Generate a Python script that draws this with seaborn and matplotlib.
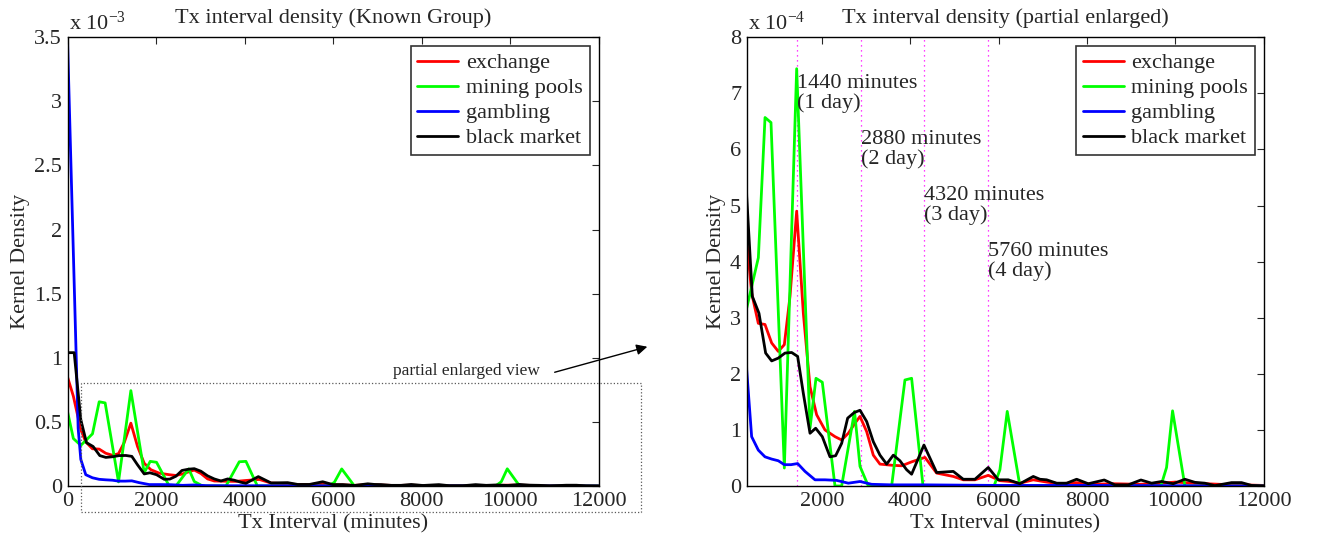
import numpy as np
import pandas as pd
import matplotlib
matplotlib.use("Agg")
import matplotlib.pyplot as plt
from matplotlib.patches import Rectangle
from matplotlib.ticker import FuncFormatter
import seaborn as sns

# Kernel density curves (density in units of 1e-4)
groups = ['exchange', 'mining pools', 'gambling', 'black market']
colors = ['#ff0000', '#00ff00', '#0000ff', '#000000']

exchange_x = [0, 132, 300, 412, 563, 714, 865, 1015, 1152, 1280,
              1431, 1582, 1733, 1883, 2071, 2298, 2449, 2600, 2751, 2864,
              3015, 3165, 3316, 3580, 3806, 4032, 4334, 4598, 4975, 5201,
              5465, 5767, 6031, 6257, 6483, 6785, 7086, 7388, 7765, 8142,
              8600, 9200, 9700, 10000, 10400, 11000, 11500, 12000]
exchange_y = [8.5, 7.0, 4.39, 3.44, 2.90, 2.88, 2.55, 2.40, 2.52, 3.38,
              4.90, 3.08, 1.77, 1.27, 1.00, 0.88, 0.82, 0.94, 1.12, 1.24,
              0.97, 0.55, 0.39, 0.37, 0.36, 0.43, 0.51, 0.23, 0.17, 0.11,
              0.11, 0.19, 0.095, 0.08, 0.05, 0.11, 0.07, 0.04, 0.06, 0.03,
              0.04, 0.03, 0.05, 0.07, 0.05, 0.03, 0.02, 0.01]

mining_x = [0, 132, 300, 564, 715, 850, 1152, 1431, 1733, 1868,
            2011, 2298, 2449, 2740, 2864, 3052, 3580, 3881, 4032, 4290,
            5897, 6030, 6196, 6483, 9673, 9801, 9937, 10216, 12000]
mining_y = [5.8, 3.7, 3.17, 4.07, 6.57, 6.48, 0.32, 7.44, 1.03, 1.92,
            1.85, 0, 0, 1.33, 0.35, 0, 0, 1.89, 1.92, 0,
            0, 0.29, 1.33, 0, 0, 0.33, 1.34, 0, 0]

gambling_x = [0, 240, 300, 412, 563, 714, 865, 1015, 1152, 1303,
              1453, 1620, 1846, 2071, 2336, 2600, 2864, 3127, 3580, 4334,
              6000, 8000, 10000, 12000]
gambling_y = [34.8, 4.5, 2.07, 0.88, 0.64, 0.52, 0.48, 0.45, 0.38, 0.38,
              0.40, 0.26, 0.11, 0.11, 0.10, 0.05, 0.08, 0.03, 0.02, 0.02,
              0.01, 0.01, 0.005, 0.0]

black_x = [0, 150, 300, 428, 578, 729, 865, 1015, 1167, 1318,
           1453, 1582, 1733, 1861, 2011, 2185, 2313, 2449, 2585, 2735,
           2864, 3015, 3165, 3316, 3467, 3618, 3768, 3919, 4032, 4183,
           4311, 4598, 4975, 5201, 5465, 5766, 5993, 6219, 6483, 6785,
           6936, 7087, 7313, 7540, 7766, 8030, 8391, 8632, 8934, 9221,
           9462, 9688, 9952, 10216, 10442, 10668, 10894, 11271, 11498, 11724,
           12000]
black_y = [10.4, 10.4, 5.17, 3.38, 3.08, 2.37, 2.23, 2.28, 2.37, 2.38,
           2.31, 1.65, 0.94, 1.03, 0.88, 0.52, 0.54, 0.76, 1.21, 1.31,
           1.35, 1.15, 0.79, 0.55, 0.39, 0.55, 0.45, 0.29, 0.21, 0.49,
           0.73, 0.24, 0.26, 0.12, 0.12, 0.33, 0.11, 0.11, 0.04, 0.17,
           0.12, 0.11, 0.05, 0.05, 0.12, 0.04, 0.107, 0.02, 0.02, 0.107,
           0.05, 0.08, 0.04, 0.12, 0.065, 0.05, 0.006, 0.06, 0.06, 0.01,
           0.0]

day_marks = [1440, 2880, 4320, 5760]
day_labels = ['1440 minutes\n(1 day)', '2880 minutes\n(2 day)',
              '4320 minutes\n(3 day)', '5760 minutes\n(4 day)']

frames = []
for name, xs, ys in zip(groups, [exchange_x, mining_x, gambling_x, black_x],
                        [exchange_y, mining_y, gambling_y, black_y]):
    frames.append(pd.DataFrame({'interval': xs,
                                'density': np.array(ys) * 1e-4,
                                'group': name}))
df = pd.concat(frames, ignore_index=True)

sns.set_style("white")
plt.rcParams['font.family'] = ['Liberation Serif', 'DejaVu Serif']
plt.rcParams['mathtext.fontset'] = 'custom'
plt.rcParams['mathtext.rm'] = 'Liberation Serif'
plt.rcParams['mathtext.it'] = 'Liberation Serif:italic'

fig = plt.figure(figsize=(13.19, 5.43), dpi=100)
ax1 = fig.add_axes([0.0512, 0.105, 0.4026, 0.8263])
ax2 = fig.add_axes([0.5661, 0.105, 0.392, 0.8263])

FS = 16


def draw(ax, title, scale, exp, ylim, yticks, xlim, xticks):
    sns.lineplot(data=df, x='interval', y='density', hue='group',
                 hue_order=groups, palette=colors, estimator=None,
                 sort=False, linewidth=2, ax=ax)
    ax.set_xlim(*xlim)
    ax.set_ylim(*ylim)
    ax.set_xticks(xticks)
    ax.set_yticks(yticks)
    ax.yaxis.set_major_formatter(FuncFormatter(lambda v, p: f'{v * scale:g}'))
    ax.tick_params(direction='in', length=5, width=0.8, labelsize=FS,
                   top=True, right=True, pad=4)
    for s in ax.spines.values():
        s.set_color('black')
        s.set_linewidth(1)
    ax.set_title(title, fontsize=FS, pad=10)
    ax.set_xlabel('Tx Interval (minutes)', fontsize=FS, labelpad=3)
    ax.set_ylabel('Kernel Density', fontsize=FS, labelpad=3)
    ax.text(0.003, 1.005, 'x 10$^{' + exp + '}$', transform=ax.transAxes,
            ha='left', va='bottom', fontsize=FS)
    handles, labels = ax.get_legend_handles_labels()
    leg = ax.legend(handles, labels, loc='upper right', fontsize=FS,
                    frameon=True, fancybox=False, edgecolor='black',
                    handlelength=1.85, handletextpad=0.35, labelspacing=0.2,
                    borderpad=0.3, borderaxespad=0.4)
    leg.get_frame().set_linewidth(1.2)
    for line in leg.get_lines():
        line.set_linewidth(2)


draw(ax1, 'Tx interval density (Known Group)', 1e3, '-3',
     (0, 3.5e-3), np.arange(0, 3.51e-3, 0.5e-3),
     (0, 12000), np.arange(0, 12001, 2000))
draw(ax2, 'Tx interval density (partial enlarged)', 1e4, '-4',
     (0, 8e-4), np.arange(0, 8.01e-4, 1e-4),
     (300, 12000), np.arange(2000, 12001, 2000))

# dotted box marking the enlarged region
ax1.add_patch(Rectangle((300, -0.2e-3), 12650, 1.0e-3, fill=False,
                        linestyle=':', linewidth=0.9, edgecolor='0.35',
                        clip_on=False, zorder=5))
fig.text(540 / 1319, 1 - 371 / 543, 'partial enlarged view', fontsize=12.5,
         ha='right', va='center')
fig.add_artist(matplotlib.patches.FancyArrowPatch(
    (552 / 1319, 1 - 373 / 543), (650 / 1319, 1 - 346 / 543),
    transform=fig.transFigure, arrowstyle='-|>', mutation_scale=16,
    linewidth=1, color='black'))

# day markers in the enlarged view
for d, lab, yt in zip(day_marks, day_labels, [7.0e-4, 6.0e-4, 5.0e-4, 4.0e-4]):
    ax2.axvline(d, color='#ff00ff', linestyle=(0, (1, 3)), linewidth=0.9,
                zorder=0)
    ax2.text(d, yt, lab, fontsize=FS, ha='left', va='center', linespacing=1.0)

fig.savefig('out.png', dpi=100)
